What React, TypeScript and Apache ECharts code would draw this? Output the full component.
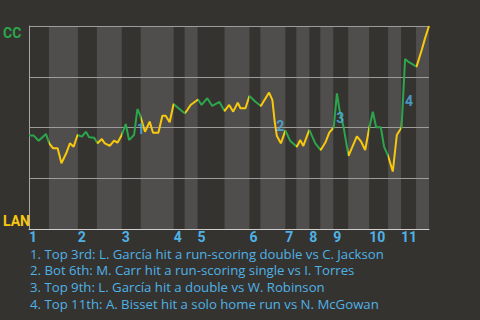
import { useEffect, useRef } from 'react';
import * as echarts from 'echarts';

const innings = ['1', '2', '3', '4', '5', '6', '7', '8', '9', '10', '11'];
// start of each half inning (top, bottom, top, bottom ...) in play units
const halfInningStarts = [
  0, 5.99, 14.66, 20.35, 27.83, 33.52, 43.39, 46.68, 50.57, 58.65, 66.13,
  69.42, 76.91, 80.2, 84.09, 87.38, 91.27, 95.76, 102.04, 107.73, 111.62, 116.11,
];
const xEnd = 120;

const eventX = [
  0, 1.41, 2.9, 5.09, 6.07, 7.18, 8.59, 9.73, 11.16, 12.27, 13.38, 14.57, 15.86, 17.06, 18.04,
  19.54, 20.56, 21.85, 22.74, 24.24, 25.53, 26.54, 27.68, 29.03, 30.01, 31.51, 32.53, 33.31,
  34.8, 36.21, 37.2, 38.81, 40.01, 41.0, 42.19, 43.39, 44.5, 46.68, 47.49, 48.48, 50.72, 51.77,
  53.48, 54.97, 57.16, 58.65, 60.06, 61.26, 62.63, 63.44, 64.94, 66.13, 67.93, 69.58, 70.62,
  72.03, 73.02, 73.71, 74.36, 75.56, 76.91, 78.4, 80.35, 81.4, 82.29, 84.09, 85.89, 87.53,
  89.03, 90.08, 91.42, 92.38, 93.16, 94.35, 95.85, 98.36, 99.65, 100.85, 102.04, 103.15,
  104.14, 105.55, 106.53, 107.73, 109.14, 110.34, 111.77, 112.82, 113.72, 116.26, 117.82,
  118.8, 120,
];
const ccWinProb = [
  46.0, 46.0, 43.5, 46.8, 42.2, 39.8, 39.8, 32.4, 37.3, 42.2, 40.5, 46.3, 45.5, 47.9, 45.2,
  45.0, 42.2, 44.3, 42.2, 41.0, 43.5, 42.5, 45.8, 51.7, 43.8, 46.3, 59.1, 56.2,
  47.9, 52.9, 47.4, 47.4, 55.8, 55.8, 52.6, 61.6, 60.0, 57.0, 58.6, 61.1, 63.8, 61.1,
  64.4, 60.6, 62.6, 58.1, 61.1, 57.8, 62.2, 59.5, 59.5, 65.5, 62.7, 60.6, 63.5,
  67.2, 63.5, 52.9, 45.8, 42.2, 48.5, 43.3, 40.5, 43.8, 40.9, 48.8, 42.2, 38.9,
  43.0, 47.5, 50.0, 66.8, 58.6, 50.4, 36.0, 45.6, 43.0, 38.9, 49.5, 57.8,
  50.1, 50.1, 40.5, 36.0, 28.3, 46.3, 50.0, 83.7, 82.5, 80.0, 88.2,
  93.9, 100,
];

const keyPlayNumbers = ['1', '2', '3', '4'];
const keyPlayX = [33.5, 75.4, 93.4, 114.0];
const keyPlayY = [49.5, 50.7, 54.7, 63.1];
const keyPlayTexts = [
  '1. Top 3rd: L. García hit a run-scoring double vs C. Jackson',
  '2. Bot 6th: M. Carr hit a run-scoring single vs I. Torres',
  '3. Top 9th: L. García hit a double vs W. Robinson',
  '4. Top 11th: A. Bisset hit a solo home run vs N. McGowan',
];

const GREEN = '#2ba64c';
const YELLOW = '#f8c80c';
const BLUE = '#4fb2e6';
const FONT = 'Roboto, "Noto Sans", sans-serif';
const TEXT_FONT = '"Open Sans", Roboto, sans-serif';

export default function App() {
  const ref = useRef<HTMLDivElement>(null);
  useEffect(() => {
    if (!ref.current) return;
    const chart = echarts.init(ref.current, undefined, { renderer: 'svg' });
    const ends = halfInningStarts.map((s, i) => (i + 1 < halfInningStarts.length ? halfInningStarts[i + 1] : xEnd));
    const topStarts = halfInningStarts.filter((_, i) => i % 2 === 0);
    const bands = halfInningStarts
      .map((s, i) => ({ s, e: ends[i], i }))
      .filter((b) => b.i % 2 === 1)
      .map((b) => [{ xAxis: b.s, itemStyle: { color: '#504e4c' } }, { xAxis: b.e }]);
    const pieces = halfInningStarts.map((s, i) => {
      const p: any = { gte: s, color: i % 2 === 0 ? GREEN : YELLOW };
      if (i === halfInningStarts.length - 1) p.lte = xEnd + 1;
      else p.lt = ends[i];
      return p;
    });
    chart.setOption({
      animation: false,
      backgroundColor: '#353330',
      textStyle: { fontFamily: FONT },
      grid: { left: 28, right: 51, top: 26, bottom: 91, containLabel: false },
      xAxis: {
        type: 'value',
        min: 0,
        max: xEnd,
        z: 3,
        splitLine: { show: false },
        axisTick: { show: false },
        axisLine: { show: true, lineStyle: { color: '#d0cecc', width: 1 } },
        axisLabel: {
          customValues: topStarts,
          formatter: (v: number) => {
            const idx = topStarts.findIndex((t) => Math.abs(t - v) < 0.01);
            return idx >= 0 ? innings[idx] : '';
          },
          align: 'left',
          margin: 1,
          color: BLUE,
          fontWeight: 'bold',
          fontSize: 14,
          fontFamily: FONT,
        },
      },
      yAxis: {
        type: 'value',
        min: 0,
        max: 100,
        interval: 25,
        z: 3,
        axisTick: { show: false },
        axisLine: { show: true, lineStyle: { color: '#a8a6a4', width: 1 } },
        splitLine: { show: true, lineStyle: { color: '#9e9c9a', width: 1 } },
        axisLabel: {
          customValues: [0, 100],
          align: 'left',
          margin: 26,
          formatter: (v: number) => (v >= 100 ? '{cc|CC}' : '{lan|LAN}'),
          rich: {
            cc: { color: GREEN, fontWeight: 'bold', fontSize: 14, fontFamily: FONT, padding: [14, 0, 0, 0] },
            lan: { color: YELLOW, fontWeight: 'bold', fontSize: 14, fontFamily: FONT, padding: [0, 0, 17, 0] },
          },
        },
      },
      visualMap: {
        show: false,
        type: 'piecewise',
        dimension: 0,
        seriesIndex: 1,
        pieces,
      },
      series: [
        {
          type: 'line',
          data: [],
          z: 1,
          silent: true,
          markArea: { silent: true, data: bands },
        },
        {
          type: 'line',
          data: eventX.map((x, i) => [x, ccWinProb[i]]),
          showSymbol: false,
          lineStyle: { width: 2 },
          z: 4,
        },
        {
          type: 'scatter',
          data: keyPlayX.map((x, i) => [x, keyPlayY[i], keyPlayNumbers[i]]),
          symbolSize: 1,
          itemStyle: { color: 'rgba(0,0,0,0)' },
          z: 5,
          label: {
            show: true,
            position: 'inside',
            formatter: (p: any) => p.data[2],
            color: BLUE,
            fontWeight: 'bold',
            fontSize: 14,
            fontFamily: FONT,
          },
        },
      ],
      graphic: keyPlayTexts.map((t, i) => ({
        type: 'text',
        left: 30,
        top: 247 + i * 16.8,
        style: { text: t, fill: BLUE, fontSize: 13.2, fontFamily: TEXT_FONT },
      })),
    });
    return () => chart.dispose();
  }, []);
  return <div ref={ref} style={{ position: 'fixed', left: 0, top: 0, width: 480, height: 320 }} />;
}
